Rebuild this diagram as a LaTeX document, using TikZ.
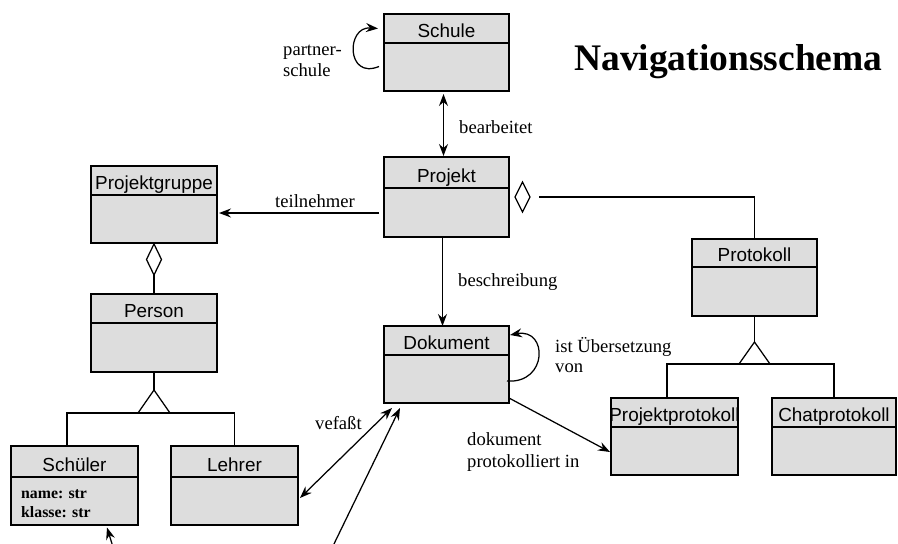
\documentclass[tikz,border=0pt]{standalone}
\usepackage{fontspec}
\setmainfont{Liberation Serif}
\newfontfamily\clsfont{Liberation Sans}
\usetikzlibrary{arrows.meta,calc}
\definecolor{boxgray}{RGB}{221,221,221}
\tikzset{
  clsbox/.style={draw, line width=2.8pt, fill=boxgray, inner sep=0pt, outer sep=0pt},
  clsdiv/.style={line width=2.5pt},
  clsname/.style={font=\clsfont\fontsize{18.9}{20}\selectfont, anchor=base, inner sep=0pt},
  lbl/.style={font=\fontsize{18.6}{20}\selectfont, anchor=base west, inner sep=0pt},
  attr/.style={font=\bfseries\fontsize{15.8}{18}\selectfont, anchor=base west, inner sep=0pt},
  conn/.style={line width=1.25pt},
  tipS/.tip={Stealth[length=12pt,width=9pt,inset=4pt]},
  arr/.style={conn, -tipS},
  darr/.style={conn, tipS-tipS},
  hollow/.style={conn, fill=white, line join=miter},
}
\newcommand\umlclass[7]{%
  \node[clsbox, minimum width=#4-#2, minimum height=#5-#3] (#1) at ({(#2+#4)/2},{(#3+#5)/2}) {};
  \draw[clsdiv] (#2,#6) -- (#4,#6);
  \node[clsname] (#1t) at ({(#2+#4)/2},{#6-6}) {#7};
}
\begin{document}
\begin{tikzpicture}[x=1pt,y=-1pt]
\useasboundingbox[fill=white] (0,0) rectangle (898,544);

% classes
\umlclass{schule}{384}{14}{509}{91}{43}{Schule}
\umlclass{projekt}{384}{157}{509}{237}{188}{Projekt}
\umlclass{pgruppe}{91}{166}{217}{243}{195}{Projektgruppe}
\umlclass{person}{91}{294}{217}{372}{323}{Person}
\umlclass{schueler}{11}{446}{138}{525}{477}{Schüler}
\umlclass{lehrer}{171}{446}{298}{525}{477}{Lehrer}
\umlclass{dokument}{384}{326}{509}{403}{355}{Dokument}
\umlclass{protokoll}{692}{239}{817}{316}{267}{Protokoll}
\umlclass{pprot}{611}{398}{738}{475}{427}{Projektprotokoll}
\umlclass{cprot}{772}{398}{896}{475}{427}{Chatprotokoll}

\node[attr] (attr1) at (21,498) {name: str};
\node[attr] (attr2) at (21,517) {klasse: str};

% title
\node[font=\bfseries\fontsize{37.5}{40}\selectfont, anchor=base west, inner sep=0pt] (title) at (574,70) {Navigationsschema};

% Schule self loop
\draw[arr] ([xshift=-5pt,yshift=-14pt]schule.west) .. controls (346,80) and (346,26) .. ([xshift=-6pt,yshift=24pt]schule.west);
\node[lbl] (lpartner) at (283,55) {partner-};
\node[lbl] (lschule) at (283,76) {schule};

% Schule - Projekt
\draw[darr] ([xshift=-3pt,yshift=-3pt]schule.south) -- ([xshift=-3pt,yshift=1pt]projekt.north);
\node[lbl] (lbearb) at (459,133) {bearbeitet};

% Projekt -> Projektgruppe
\draw[arr] ($(projekt.west)+(-5,16)$) -- ($(pgruppe.east)+(2,8.5)$);
\node[lbl] (lteil) at (275,207) {teilnehmer};

% Projekt aggregation to Protokoll
\draw[hollow] (515,197) -- (522.5,182) -- (530,197) -- (522.5,212) -- cycle;
\coordinate (aggA) at (539,197);
\draw[conn] (aggA) -- (protokoll.north |- aggA) -- (protokoll.north);

% Projekt -> Dokument
\draw[arr] ([xshift=-4pt]projekt.south) -- ([xshift=-4pt]dokument.north);
\node[lbl] (lbeschr) at (458,286) {beschreibung};

% Dokument self loop
\draw[arr] ([xshift=-2pt,yshift=-16.5pt]dokument.east) .. controls (548,384) and (548,328) .. ([xshift=1pt,yshift=29.5pt]dokument.east);
\node[lbl] (lueber) at (555,352) {ist Übersetzung};
\node[lbl] (lvon) at (555,372) {von};

% Dokument -> Projektprotokoll
\draw[arr] ([yshift=-33.5pt]dokument.east) -- ([xshift=-1pt,yshift=-15.5pt]pprot.west);
\node[lbl] (ldok) at (467,445) {dokument};
\node[lbl] (lprot) at (467,467) {protokolliert in};

% vefasst
\draw[darr] ([xshift=2pt,yshift=-12.5pt]lehrer.east) -- ([xshift=-54.5pt,yshift=-5pt]dokument.south);
\node[lbl] (lvef) at (315,429) {vefaßt};

% loose arrows
\coordinate (freeA) at (333,546);
\draw[arr] (freeA) -- ([xshift=-46.5pt,yshift=-5pt]dokument.south);
\coordinate (freeB) at (113,547);
\draw[arr] (freeB) -- ([xshift=32.5pt,yshift=-2.5pt]schueler.south);

% Projektgruppe aggregation to Person
\draw[hollow] (154,244) -- (161.5,259.5) -- (154,275) -- (146.5,259.5) -- cycle;
\draw[conn] (154,275) -- (person.north);

% Person generalization
\draw[conn] (person.south) -- (154,390);
\draw[hollow] (154,390) -- (170,413) -- (138,413) -- cycle;
\draw[conn] (67,446) -- (67,413) -- (234.5,413) -- (lehrer.north);

% Protokoll generalization
\draw[conn] (protokoll.south) -- (754.5,342);
\draw[hollow] (754.5,342) -- (770,364) -- (739,364) -- cycle;
\draw[conn] (667,398) -- (667,364) -- (834,364) -- (834,398);
\end{tikzpicture}
\end{document}
